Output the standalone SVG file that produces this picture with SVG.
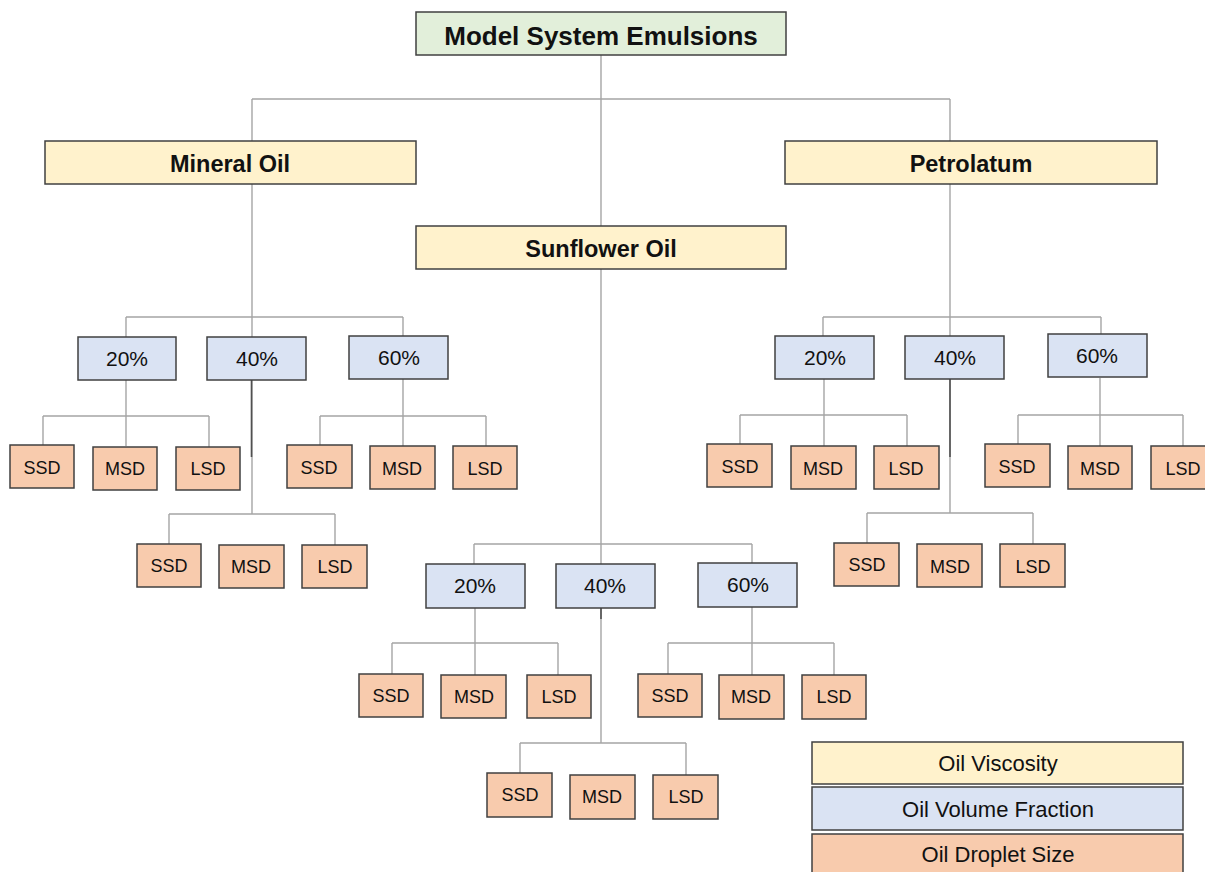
<svg xmlns="http://www.w3.org/2000/svg" width="1205" height="872" viewBox="0 0 1205 872">
<style>
.bx{stroke:#404040;stroke-width:1.5}
.g{fill:#E2EFDA}.y{fill:#FFF2CC}.b{fill:#DAE3F3}.o{fill:#F8CBAD}
.ln{fill:none;stroke:#A5A5A5;stroke-width:1.4}
.dk{fill:none;stroke:#505050;stroke-width:1.6}
text{font-family:"Liberation Sans",Arial,sans-serif;fill:#111;text-anchor:middle}
.t0{font-size:26px;font-weight:bold}
.t1{font-size:23.5px;font-weight:bold}
.tp{font-size:21px}
.ts{font-size:18px}
.tl{font-size:22px}
</style>
<rect width="1205" height="872" fill="#fff"/>
<g id="connectors">
<path class="ln" d="M601 55V226M252 99H950M252 99V141M950 99V141"/>
<path class="ln" d="M252 184V514M126 317H403M126 317V337M403 317V336"/>
<path class="ln" d="M126 380V446M43 416H209M43 416V445M209 416V447"/>
<path class="ln" d="M169 514H335M169 514V544M335 514V545"/>
<path class="ln" d="M403 379V446M320 416H486M320 416V445M486 416V446"/>
<path class="ln" d="M950 184V513M823 317H1101M823 317V336M1101 317V334"/>
<path class="ln" d="M824 379V446M740 415H907M740 415V444M907 415V446"/>
<path class="ln" d="M867 513H1033M867 513V543M1033 513V544"/>
<path class="ln" d="M1100 378V446M1018 415H1183M1018 415V444M1183 415V446"/>
<path class="ln" d="M601 269V743M474 544H752M474 544V564M752 544V563"/>
<path class="ln" d="M475 608V675M392 643H558M392 643V674M558 643V675"/>
<path class="ln" d="M520 743H686M520 743V773M686 743V775"/>
<path class="ln" d="M752 607V675M668 643H834M668 643V674M834 643V675"/>
<path class="dk" d="M251.5 380V457M950 379V457M601 608V619"/>
</g>
<g id="title"><rect class="bx g" x="416" y="12" width="370" height="43"/><text class="t0" x="601" y="45">Model System Emulsions</text></g>
<g id="mineral"><rect class="bx y" x="45" y="141" width="371" height="43"/><text class="t1" x="230" y="172">Mineral Oil</text></g>
<g id="petrolatum"><rect class="bx y" x="785" y="141" width="372" height="43"/><text class="t1" x="971" y="172">Petrolatum</text></g>
<g id="sunflower"><rect class="bx y" x="416" y="226" width="370" height="43"/><text class="t1" x="601" y="257">Sunflower Oil</text></g>

<g id="m20"><rect class="bx b" x="78" y="337" width="98" height="43"/><text class="tp" x="127" y="366">20%</text></g>
<g id="m40"><rect class="bx b" x="207" y="337" width="99" height="43"/><text class="tp" x="257" y="366">40%</text></g>
<g id="m60"><rect class="bx b" x="349" y="336" width="99" height="43"/><text class="tp" x="399" y="365">60%</text></g>
<g id="m20s"><rect class="bx o" x="10" y="445" width="64" height="43"/><text class="ts" x="42" y="474">SSD</text></g>
<g id="m20m"><rect class="bx o" x="93" y="447" width="64" height="43"/><text class="ts" x="125" y="475">MSD</text></g>
<g id="m20l"><rect class="bx o" x="176" y="447" width="64" height="43"/><text class="ts" x="208" y="475">LSD</text></g>
<g id="m40s"><rect class="bx o" x="137" y="544" width="64" height="43"/><text class="ts" x="169" y="572">SSD</text></g>
<g id="m40m"><rect class="bx o" x="219" y="545" width="65" height="43"/><text class="ts" x="251" y="573">MSD</text></g>
<g id="m40l"><rect class="bx o" x="302" y="545" width="65" height="43"/><text class="ts" x="335" y="573">LSD</text></g>
<g id="m60s"><rect class="bx o" x="287" y="445" width="65" height="43"/><text class="ts" x="319" y="474">SSD</text></g>
<g id="m60m"><rect class="bx o" x="370" y="446" width="65" height="43"/><text class="ts" x="402" y="475">MSD</text></g>
<g id="m60l"><rect class="bx o" x="453" y="446" width="64" height="43"/><text class="ts" x="485" y="475">LSD</text></g>

<g id="p20"><rect class="bx b" x="775" y="336" width="99" height="43"/><text class="tp" x="825" y="365">20%</text></g>
<g id="p40"><rect class="bx b" x="905" y="336" width="99" height="43"/><text class="tp" x="955" y="365">40%</text></g>
<g id="p60"><rect class="bx b" x="1048" y="334" width="99" height="43"/><text class="tp" x="1097" y="363">60%</text></g>
<g id="p20s"><rect class="bx o" x="707" y="444" width="65" height="43"/><text class="ts" x="740" y="473">SSD</text></g>
<g id="p20m"><rect class="bx o" x="791" y="446" width="65" height="43"/><text class="ts" x="823" y="475">MSD</text></g>
<g id="p20l"><rect class="bx o" x="874" y="446" width="65" height="43"/><text class="ts" x="906" y="475">LSD</text></g>
<g id="p40s"><rect class="bx o" x="834" y="543" width="65" height="43"/><text class="ts" x="867" y="571">SSD</text></g>
<g id="p40m"><rect class="bx o" x="917" y="544" width="65" height="43"/><text class="ts" x="950" y="573">MSD</text></g>
<g id="p40l"><rect class="bx o" x="1000" y="544" width="65" height="43"/><text class="ts" x="1033" y="573">LSD</text></g>
<g id="p60s"><rect class="bx o" x="985" y="444" width="65" height="43"/><text class="ts" x="1017" y="473">SSD</text></g>
<g id="p60m"><rect class="bx o" x="1068" y="446" width="64" height="43"/><text class="ts" x="1100" y="475">MSD</text></g>
<g id="p60l"><rect class="bx o" x="1151" y="446" width="65" height="43"/><text class="ts" x="1183" y="475">LSD</text></g>

<g id="s20"><rect class="bx b" x="426" y="564" width="99" height="44"/><text class="tp" x="475" y="593">20%</text></g>
<g id="s40"><rect class="bx b" x="556" y="564" width="99" height="44"/><text class="tp" x="605" y="593">40%</text></g>
<g id="s60"><rect class="bx b" x="698" y="563" width="99" height="44"/><text class="tp" x="748" y="592">60%</text></g>
<g id="s20s"><rect class="bx o" x="359" y="674" width="64" height="43"/><text class="ts" x="391" y="702">SSD</text></g>
<g id="s20m"><rect class="bx o" x="441" y="675" width="65" height="43"/><text class="ts" x="474" y="703">MSD</text></g>
<g id="s20l"><rect class="bx o" x="527" y="675" width="64" height="43"/><text class="ts" x="559" y="703">LSD</text></g>
<g id="s40s"><rect class="bx o" x="487" y="773" width="65" height="44"/><text class="ts" x="520" y="801">SSD</text></g>
<g id="s40m"><rect class="bx o" x="570" y="775" width="65" height="44"/><text class="ts" x="602" y="803">MSD</text></g>
<g id="s40l"><rect class="bx o" x="653" y="775" width="65" height="44"/><text class="ts" x="686" y="803">LSD</text></g>
<g id="s60s"><rect class="bx o" x="638" y="674" width="64" height="43"/><text class="ts" x="670" y="702">SSD</text></g>
<g id="s60m"><rect class="bx o" x="719" y="675" width="65" height="44"/><text class="ts" x="751" y="703">MSD</text></g>
<g id="s60l"><rect class="bx o" x="802" y="675" width="64" height="44"/><text class="ts" x="834" y="703">LSD</text></g>

<g id="legend">
<rect class="bx y" x="812" y="742" width="371" height="42"/><text class="tl" x="998" y="771">Oil Viscosity</text>
<rect class="bx b" x="812" y="787" width="371" height="43"/><text class="tl" x="998" y="817">Oil Volume Fraction</text>
<rect class="bx o" x="812" y="834" width="371" height="43"/><text class="tl" x="998" y="862">Oil Droplet Size</text>
</g>
</svg>
